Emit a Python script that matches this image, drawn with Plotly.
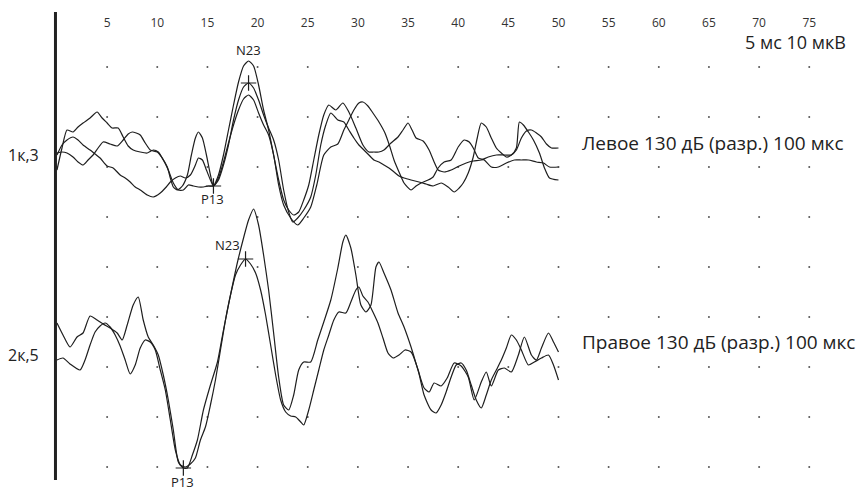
import plotly.graph_objects as go

# ---- data (time in ms, amplitude in µV relative to channel baseline) ----
tick_ms = [5, 10, 15, 20, 25, 30, 35, 40, 45, 50, 55, 60, 65, 70, 75]

ch1_offset = -30.0
ch2_offset = -70.0

left_a_t = [0, 0.5, 1.0, 1.6, 2.1, 2.6, 3.3, 4.0, 4.5, 5.0, 5.5, 6.1, 6.6, 7.1, 7.6, 8.3, 9.0, 9.6, 10.1, 10.6, 11.1, 11.6, 12.1, 12.6, 13.1, 13.6, 14.1, 14.6, 15.1, 15.6, 16.1, 16.6, 17.1, 17.6, 18.1, 18.6, 19.1, 19.6, 20.1, 20.6, 21.1, 21.6, 22.1, 22.6, 23.1, 23.6, 24.1, 24.6, 25.1, 25.6, 26.1, 26.6, 27.1, 27.8, 28.5, 29.1, 29.8, 30.5, 31.1, 31.6, 32.1, 32.6, 33.3, 34.0, 34.5, 35.0, 35.4, 35.8, 36.5, 37.1, 37.6, 38.0, 38.6, 39.3, 40.1, 40.8, 41.5, 42.3, 43.0, 43.8, 44.6, 45.3, 45.8, 46.3, 46.8, 47.3, 47.8, 48.3, 48.8, 49.3, 50.0]
left_a_v = [-4, 0.4, 4, 3.6, 4.6, 5.4, 6.4, 7.6, 6.4, 5.4, 4.4, 4.4, 2.6, 0.8, 0, -0.4, -0.6, 0, -0.4, -2, -4, -6.6, -8, -8, -7, -7.2, -7.4, -7.4, -7.2, -7.2, -5, -1, 4, 9, 13.6, 16.8, 17.8, 16.8, 13, 8, 4, -1, -6, -10, -12, -13, -12.4, -10, -7, -2, 3, 7, 9, 8, 9.4, 7.6, 4.4, 1, -0.4, -0.4, -0.4, 0, 1.4, 2.6, 4, 5.4, 4, 2.4, 1.8, 0, -2.4, -4, -4.4, -4, -3.2, -2.6, -2.2, -2, -1.4, -1, -1, -1, 0, 2.4, 3.8, 4, 3.4, 2.6, 1.2, 0.4, 0.4]

left_b_t = [0, 0.5, 1.0, 1.6, 2.1, 2.6, 3.3, 3.8, 4.3, 5.0, 5.6, 6.3, 6.8, 7.3, 7.8, 8.3, 9.0, 9.6, 10.3, 10.8, 11.3, 11.8, 12.3, 12.8, 13.3, 13.8, 14.1, 14.5, 14.9, 15.3, 15.6, 16.1, 16.6, 17.1, 17.6, 18.1, 18.6, 19.1, 19.6, 20.1, 20.6, 21.1, 21.6, 22.1, 22.6, 23.1, 23.5, 24.0, 24.6, 25.3, 25.8, 26.3, 26.8, 27.3, 28.0, 28.6, 29.1, 29.6, 30.1, 30.6, 31.1, 31.6, 32.1, 32.6, 33.1, 33.6, 34.1, 34.6, 35.3, 36.1, 36.8, 37.5, 38.3, 39.0, 39.6, 40.1, 40.5, 41.0, 41.5, 41.9, 42.3, 42.8, 43.3, 43.8, 44.3, 44.8, 45.3, 45.8, 46.1, 46.5, 47.0, 47.5, 48.1, 48.6, 49.1, 50.0]
left_b_v = [-1, 1, 2, 2.6, 2, 1, 0, -0.8, -1.6, -3.2, -3.6, -5, -5.6, -6.4, -7.4, -8, -9, -9.4, -8.6, -7.6, -6.4, -5.6, -5.2, -5.6, -5, -3, -1.6, -2, -4, -6, -7.2, -6, -3, 1, 6, 10, 12.6, 13.4, 12.4, 10, 7, 4.4, 2, -2, -8, -12.4, -14.4, -13.6, -12, -9.4, -5, 1, 5, 7.4, 6, 5.6, 4, 2.4, 1, 0, -1, -2, -2.4, -3, -3.6, -4.4, -5.2, -5.6, -6, -6.4, -6.8, -7.2, -6.6, -7.4, -8.4, -7.6, -6.6, -4.6, -1.4, 2.4, 5.4, 4.6, 2.4, 0.4, -0.6, -1.4, -1, 0.4, 5.6, 5, 3.6, 2, -0.6, -3.6, -5.6, -6]

left_c_t = [0, 0.5, 1.0, 1.6, 2.1, 2.6, 3.1, 3.6, 4.1, 4.6, 5.3, 6.0, 6.6, 7.1, 7.5, 7.9, 8.3, 8.8, 9.3, 10.0, 10.5, 11.0, 11.3, 11.6, 12.0, 12.5, 13.0, 13.4, 13.8, 14.1, 14.5, 14.9, 15.3, 15.6, 16.1, 16.6, 17.1, 17.6, 18.1, 18.6, 19.1, 19.6, 20.1, 20.6, 21.1, 21.6, 22.1, 22.6, 23.3, 24.0, 24.6, 25.3, 25.9, 26.6, 27.3, 28.0, 28.6, 29.1, 29.6, 30.1, 30.5, 31.0, 31.5, 32.1, 32.7, 33.2, 33.6, 34.1, 34.6, 35.3, 35.8, 36.3, 37.0, 37.5, 38.0, 38.6, 39.3, 40.0, 40.6, 41.1, 41.5, 42.0, 42.6, 43.3, 44.0, 44.8, 45.6, 46.3, 47.0, 47.8, 48.5, 49.1, 50.0]
left_c_v = [-0.6, -0.4, -0.6, -1.4, -2.4, -3, -2, -1, 0.4, 1.6, 1.2, 0.8, 2, 3.2, 3.6, 3.4, 3, 1.4, 0, -0.4, -1.6, -3.4, -5.6, -7.4, -8, -7.2, -5, -1, 2.4, 3.6, 2.4, -1, -5, -7.2, -5.6, -2.4, 1.4, 5, 8, 10.2, 11, 10, 7.4, 5, 3, -1, -7, -11, -13.6, -15, -13.6, -11.4, -7, -1, 0.6, 1.2, 4, 6, 8, 9.4, 9.6, 8.8, 7.4, 5.6, 3.4, 0.6, -2, -4.4, -6.6, -8, -7.2, -6.6, -6, -5.4, -3.6, -2.4, -2, 0.6, 2, 1.6, 0.4, -1.6, -2, -3.4, -3.4, -2.6, -2, -2, -2, -2.4, -2.6, -3.4, -3.4]

right_a_t = [0, 0.6, 1.3, 2.0, 2.6, 3.3, 4.0, 4.6, 5.3, 6.0, 6.5, 7.0, 7.6, 8.1, 8.6, 9.1, 9.6, 10.1, 10.6, 11.1, 11.6, 12.1, 12.6, 13.0, 13.5, 14.0, 14.6, 15.3, 16.0, 16.6, 17.3, 18.0, 18.6, 19.1, 19.6, 20.1, 20.6, 21.1, 21.6, 22.1, 22.6, 23.1, 23.6, 24.1, 24.6, 25.3, 26.0, 26.6, 27.3, 28.0, 28.5, 28.8, 29.3, 29.8, 30.3, 30.8, 31.3, 31.8, 32.1, 32.6, 33.3, 34.0, 34.6, 35.3, 36.0, 36.6, 37.1, 37.6, 38.3, 38.9, 39.6, 40.3, 41.0, 41.6, 42.3, 42.8, 43.3, 44.0, 44.6, 45.3, 46.0, 46.6, 47.3, 47.8, 48.3, 49.0, 49.5, 50.0]
right_a_v = [5.4, 3, 0.6, 2.6, 3.4, 6.8, 6, 5.2, 4.4, 3.4, 2, 5, 9, 10.6, 6, 2.6, 1, -1, -5, -10, -16, -22.4, -23.6, -23.6, -21, -18, -12, -7, -2.4, 4, 11, 17.6, 22.4, 26, 28.2, 25, 19, 12, 3.4, -5.4, -11, -12, -9, -4, -2.4, -2.4, 2, 5.6, 10, 16.4, 21.6, 23, 20.4, 15, 9, 7.6, 9, 16.6, 17.6, 15.4, 12, 7.4, 4.6, 0.6, -4, -7.6, -8.4, -6.6, -7.2, -5.6, -2.6, -3.2, -5.4, -10, -6.4, -4.4, -7.2, -4, -3.6, -4.4, -1, 2.6, -1, -2, 0.4, 3.4, 1.6, -0.4]

right_b_t = [0, 0.6, 1.3, 2.3, 2.8, 3.3, 3.8, 4.3, 4.8, 5.3, 5.8, 6.3, 6.8, 7.3, 7.8, 8.3, 8.8, 9.3, 9.8, 10.3, 10.8, 11.3, 11.8, 12.3, 12.8, 13.3, 13.8, 14.3, 14.8, 15.3, 15.8, 16.3, 16.8, 17.3, 17.8, 18.3, 18.8, 19.3, 19.8, 20.3, 20.8, 21.3, 21.8, 22.3, 22.8, 23.3, 23.8, 24.3, 24.6, 25.1, 25.6, 26.1, 26.6, 27.1, 27.6, 28.1, 28.8, 29.3, 29.8, 30.1, 30.5, 31.0, 31.5, 32.0, 32.5, 33.0, 33.5, 34.1, 34.7, 35.3, 36.0, 36.6, 37.3, 37.8, 38.3, 38.8, 39.3, 39.8, 40.3, 40.8, 41.3, 41.8, 42.3, 42.8, 43.3, 43.8, 44.3, 44.8, 45.3, 45.8, 46.3, 47.0, 47.6, 48.3, 49.0, 49.5, 50.0]
right_b_v = [-2, -1.6, -2.8, -4, -2, 1, 3.6, 4.8, 5.4, 4.6, 3, 0.8, -2, -4.8, -3, 0.4, 2, 1.6, 0, -4, -8, -14, -20, -23, -23.4, -22.8, -21.6, -18, -15.4, -11, -6, 0, 6, 11, 15, 17, 18.2, 17.2, 15.4, 12, 7, 1, -5, -10, -12.4, -13.2, -13.4, -14.4, -15, -12, -8, -4, 0, 3, 6, 7.6, 7.4, 9.6, 12, 12.6, 10.8, 9.6, 7.6, 5.4, 2.4, -0.6, -1.6, -1, 0, -0.4, -4, -9, -12, -12.6, -11, -8.4, -5.4, -3, -2.6, -4, -7, -10, -11.6, -9, -6, -4, -2, 0.4, 3, 2, 0, -3, -2.4, -1.6, -1, -3, -6]

# peak labels: (time ms, amplitude µV on channel)
peaks_ch1 = {"N23": (19.1, 13.4), "P13": (15.6, -7.2)}
peaks_ch2 = {"N23": (18.8, 18.2), "P13": (12.6, -23.6)}

channel_labels = ["1к,3", "2к,5"]
series_labels = ["Левое 130 дБ (разр.) 100 мкс", "Правое 130 дБ (разр.) 100 мкс"]
scale_label = "5 мс 10 мкВ"

# ---- figure ----
LINE = "#1e1e1e"
FONT = "Open Sans"
fig = go.Figure()

# dotted grid
grid_rows = [-13.4 - 10 * k for k in range(9)]
gx, gy = [], []
for r in grid_rows:
    for t in tick_ms:
        gx.append(t)
        gy.append(r)
fig.add_trace(go.Scatter(x=gx, y=gy, mode="markers",
                         marker=dict(size=2, color="#555555"),
                         hoverinfo="skip", showlegend=False))

def add_trace(t, v, off):
    fig.add_trace(go.Scatter(x=t, y=[off + a for a in v], mode="lines",
                             line=dict(color=LINE, width=1.2, shape="spline", smoothing=0.6),
                             showlegend=False, hoverinfo="skip"))

add_trace(left_a_t, left_a_v, ch1_offset)
add_trace(left_b_t, left_b_v, ch1_offset)
add_trace(left_c_t, left_c_v, ch1_offset)
add_trace(right_a_t, right_a_v, ch2_offset)
add_trace(right_b_t, right_b_v, ch2_offset)

# peak markers
mx, my = [], []
for pk, off in ((peaks_ch1, ch1_offset), (peaks_ch2, ch2_offset)):
    for name, (t, a) in pk.items():
        mx.append(t)
        my.append(off + a)
fig.add_trace(go.Scatter(x=mx, y=my, mode="markers",
                         marker=dict(symbol="cross-thin", size=11,
                                     line=dict(color=LINE, width=1.2)),
                         showlegend=False, hoverinfo="skip"))

PK_FONT = dict(size=13, family=FONT, color="#222")
fig.add_annotation(x=19.05, y=-10.0, text="N23", showarrow=False, font=PK_FONT)
fig.add_annotation(x=15.55, y=-39.8, text="P13", showarrow=False, font=PK_FONT)
fig.add_annotation(x=17.05, y=-49.0, text="N23", showarrow=False, font=PK_FONT)
fig.add_annotation(x=12.56, y=-96.4, text="P13", showarrow=False, font=PK_FONT)

# channel labels
CH_FONT = dict(size=16, family=FONT, color="#222")
fig.add_annotation(x=-1.6, y=-31.0, text=channel_labels[0], showarrow=False, xanchor="right", font=CH_FONT)
fig.add_annotation(x=-1.6, y=-71.0, text=channel_labels[1], showarrow=False, xanchor="right", font=CH_FONT)
SR_FONT = dict(size=19, family=FONT, color="#222")
fig.add_annotation(x=52.1, y=-28.6, text=series_labels[0], showarrow=False, xanchor="left", font=SR_FONT)
fig.add_annotation(x=52.1, y=-68.4, text=series_labels[1], showarrow=False, xanchor="left", font=SR_FONT)
fig.add_annotation(x=78.9, y=-8.4, text=scale_label, showarrow=False, xanchor="right",
                   font=dict(size=18, family=FONT, color="#222"))

# thick left axis line
fig.add_shape(type="line", xref="x", yref="paper", x0=-0.15, x1=-0.15,
              y0=0.024, y1=1.039, line=dict(color="#222", width=3))

fig.update_layout(
    width=857, height=491, autosize=False,
    margin=dict(l=0, r=0, t=30, b=0),
    paper_bgcolor="white", plot_bgcolor="white",
    xaxis=dict(range=[-5.68, 79.76], side="top", tickvals=tick_ms,
               ticktext=[str(t) for t in tick_ms], ticks="", showgrid=False,
               zeroline=False, showline=False, tickfont=dict(size=12, family=FONT, color="#333")),
    yaxis=dict(range=[-98.2, -6.0], visible=False, showgrid=False, zeroline=False),
)

fig.write_html("out.html", config={"displayModeBar": False},
               post_script="document.body.style.margin='0';document.body.style.overflow='hidden';")
